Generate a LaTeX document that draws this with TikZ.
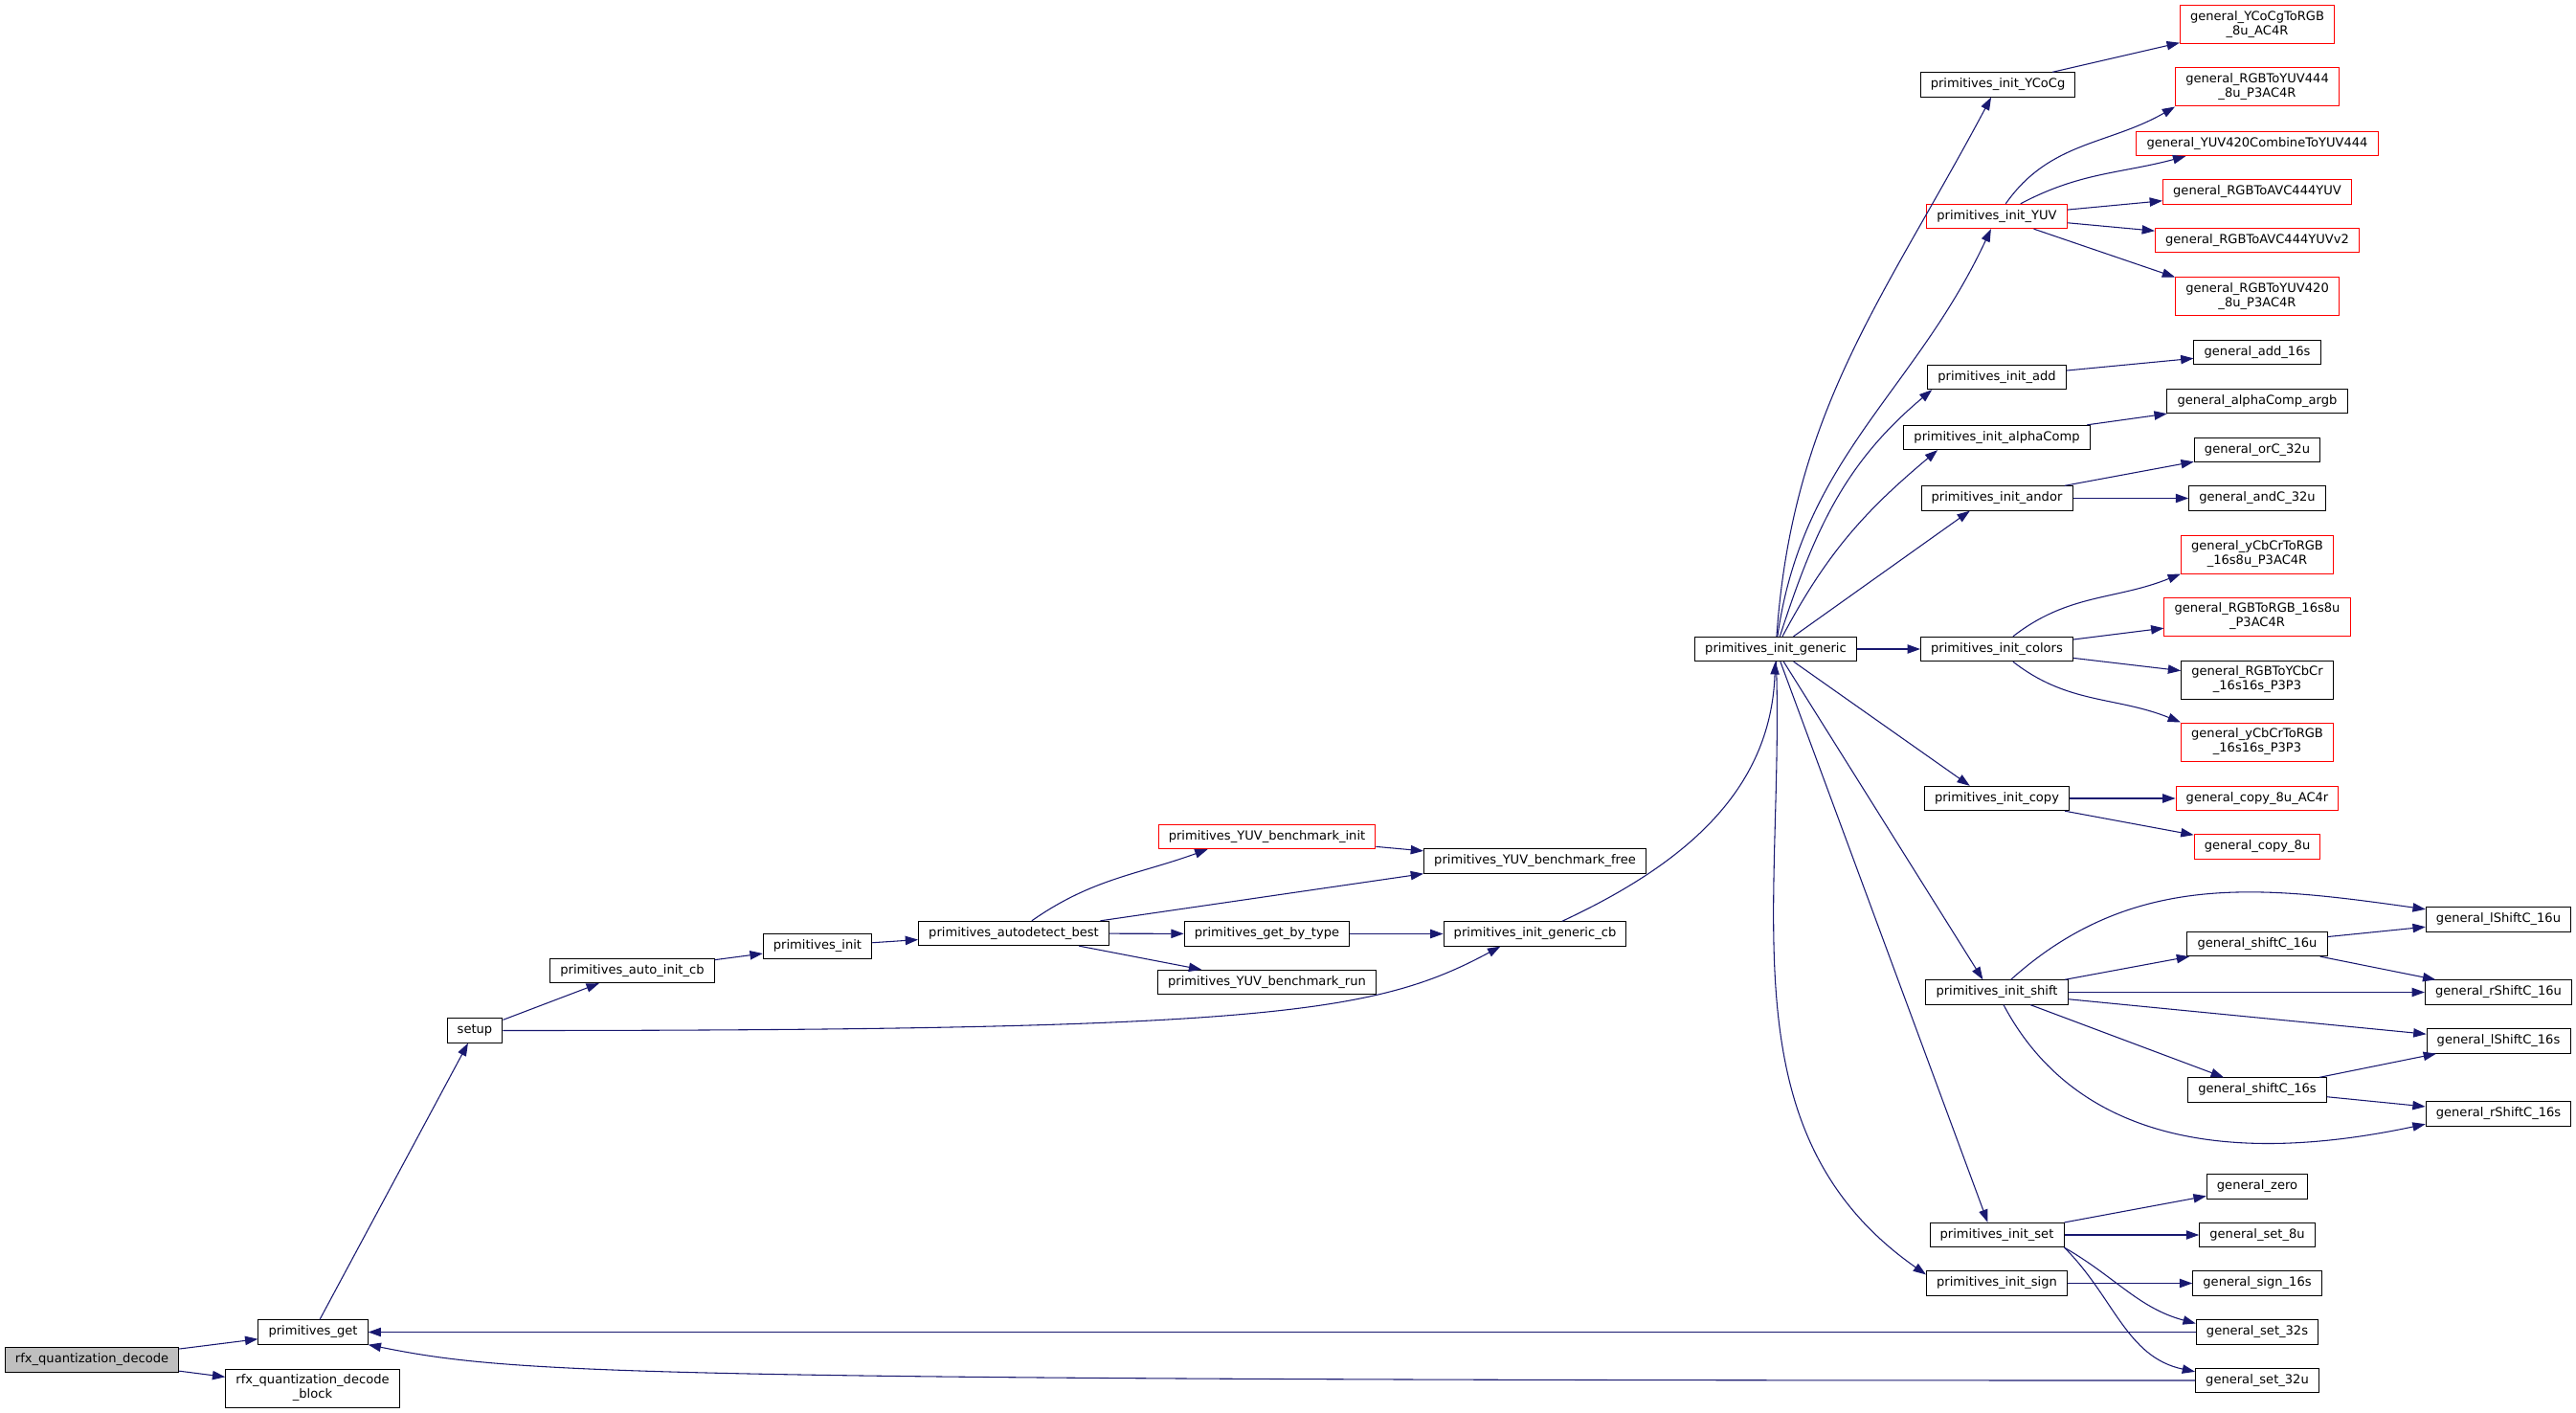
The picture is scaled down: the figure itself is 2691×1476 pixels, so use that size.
\documentclass[tikz,border=0pt]{standalone}
\usepackage{fontspec}
\setmainfont{DejaVu Sans}
\usetikzlibrary{arrows.meta}
\definecolor{edgeblue}{HTML}{191970}
\definecolor{rootgrey}{HTML}{BFBFBF}
\tikzset{
  fn/.style={draw=black, line width=0.75pt, fill=white, inner xsep=8pt, inner ysep=0pt,
    minimum height=19pt, align=center, font=\fontsize{9.8pt}{11.25pt}\selectfont},
  fntwo/.style={fn, minimum height=30pt},
  trunc/.style={draw=red},
  root/.style={fill=rootgrey},
  edge/.style={draw=edgeblue, line width=0.8pt, -{Triangle[length=10pt,width=7pt]}}
}

\begin{document}
\begin{tikzpicture}[x=0.75pt,y=-0.75pt]
		%%%%% START %%%%%
		\useasboundingbox (0,0) rectangle (2691,1476);
		
		\node[fn, root] (rfxdecode) at (96, 1420.5) {rfx\_quantization\_decode};
		\node[fn] (primget) at (327, 1391.5) {primitives\_get};
		\node[fntwo] (decodeblock) at (326.5, 1450) {rfx\_quantization\_decode\\\_block};
		
		\node[fn] (setup) at (496, 1076.5) {setup};
		\node[fn] (autoinitcb) at (660.5, 1014) {primitives\_auto\_init\_cb};
		\node[fn] (priminit) at (854, 988.5) {primitives\_init};
		\node[fn] (autodetect) at (1059, 975) {primitives\_autodetect\_best};
		
		\node[fn, trunc] (benchinit) at (1323.5, 874) {primitives\_YUV\_benchmark\_init};
		\node[fn] (benchfree) at (1603.5, 899.5) {primitives\_YUV\_benchmark\_free};
		\node[fn] (getbytype) at (1323.5, 975.5) {primitives\_get\_by\_type};
		\node[fn] (benchrun) at (1323.5, 1026) {primitives\_YUV\_benchmark\_run};
		\node[fn] (gencb) at (1603.5, 975.5) {primitives\_init\_generic\_cb};
		\node[fn] (initgeneric) at (1855, 678) {primitives\_init\_generic};
		
		\node[fn] (initycocg) at (2087, 88.5) {primitives\_init\_YCoCg};
		\node[fn, trunc] (inityuv) at (2086, 226) {primitives\_init\_YUV};
		\node[fn] (initadd) at (2086, 394) {primitives\_init\_add};
		\node[fn] (initalpha) at (2086, 457) {primitives\_init\_alphaComp};
		\node[fn] (initandor) at (2086, 520.5) {primitives\_init\_andor};
		\node[fn] (initcolors) at (2086, 678) {primitives\_init\_colors};
		\node[fn] (initcopy) at (2086, 834) {primitives\_init\_copy};
		\node[fn] (initshift) at (2086, 1036.5) {primitives\_init\_shift};
		\node[fn] (initset) at (2086, 1290) {primitives\_init\_set};
		\node[fn] (initsign) at (2086, 1340.5) {primitives\_init\_sign};
		
		\node[fntwo, trunc] (ycocgrgb) at (2358, 26) {general\_YCoCgToRGB\\\_8u\_AC4R};
		\node[fntwo, trunc] (yuv444) at (2358, 91) {general\_RGBToYUV444\\\_8u\_P3AC4R};
		\node[fn, trunc] (yuvcomb) at (2358, 150) {general\_YUV420CombineToYUV444};
		\node[fn, trunc] (avcyuv) at (2358, 200.5) {general\_RGBToAVC444YUV};
		\node[fn, trunc] (avcyuvtwo) at (2358, 251) {general\_RGBToAVC444YUVv2};
		\node[fntwo, trunc] (yuv420) at (2358, 310) {general\_RGBToYUV420\\\_8u\_P3AC4R};
		\node[fn] (addsixteen) at (2358, 368) {general\_add\_16s};
		\node[fn] (alphaargb) at (2358, 419) {general\_alphaComp\_argb};
		\node[fn] (orcu) at (2358, 470) {general\_orC\_32u};
		\node[fn] (andcu) at (2358, 520.5) {general\_andC\_32u};
		\node[fntwo, trunc] (ycbcrrgbu) at (2358, 579) {general\_yCbCrToRGB\\\_16s8u\_P3AC4R};
		\node[fntwo, trunc] (rgbrgbu) at (2358, 644) {general\_RGBToRGB\_16s8u\\\_P3AC4R};
		\node[fntwo] (rgbycbcr) at (2358, 710) {general\_RGBToYCbCr\\\_16s16s\_P3P3};
		\node[fntwo, trunc] (ycbcrrgbs) at (2358, 775) {general\_yCbCrToRGB\\\_16s16s\_P3P3};
		\node[fn, trunc] (copyac) at (2358, 834) {general\_copy\_8u\_AC4r};
		\node[fn, trunc] (copyu) at (2358, 884.5) {general\_copy\_8u};
		
		\node[fn] (lshiftu) at (2610, 960.5) {general\_lShiftC\_16u};
		\node[fn] (shiftu) at (2358, 986) {general\_shiftC\_16u};
		\node[fn] (rshiftu) at (2610, 1036.5) {general\_rShiftC\_16u};
		\node[fn] (lshifts) at (2610, 1087.5) {general\_lShiftC\_16s};
		\node[fn] (shifts) at (2358, 1138.5) {general\_shiftC\_16s};
		\node[fn] (rshifts) at (2610, 1163.5) {general\_rShiftC\_16s};
		
		\node[fn] (zero) at (2358, 1239.5) {general\_zero};
		\node[fn] (seteight) at (2358, 1290) {general\_set\_8u};
		\node[fn] (signsixteen) at (2358, 1340.5) {general\_sign\_16s};
		\node[fn] (setss) at (2358, 1391.5) {general\_set\_32s};
		\node[fn] (setsu) at (2358, 1442) {general\_set\_32u};
		
		% calls from the left part
		\draw[edge] (rfxdecode) -- (primget);
		\draw[edge] (rfxdecode) -- (decodeblock);
		\draw[edge] (primget) -- (setup);
		\draw[edge] (setup) -- (autoinitcb);
		\draw[edge] (setup.east) .. controls +(800,0) and +(-130,70) .. (gencb.-160);
		\draw[edge] (autoinitcb) -- (priminit);
		\draw[edge] (priminit) -- (autodetect);
		\draw[edge] (autodetect) to[out=35,in=-160] (benchinit.-168);
		\draw[edge] (autodetect) -- (benchfree.south west);
		\draw[edge] (autodetect) -- (getbytype);
		\draw[edge] (autodetect) -- (benchrun);
		\draw[edge] (benchinit) -- (benchfree);
		\draw[edge] (getbytype) -- (gencb);
		\draw[edge] (gencb) to[out=25,in=-92] (initgeneric);
		
		% primitives_init_generic
		\draw[edge] (initgeneric) to[out=86,in=-118] (initycocg);
		\draw[edge] (initgeneric) to[out=82,in=-115] (inityuv);
		\draw[edge] (initgeneric) to[out=72,in=-140] (initadd.-169);
		\draw[edge] (initgeneric) to[out=62,in=-140] (initalpha.-168);
		\draw[edge] (initgeneric) -- (initandor.-155);
		\draw[edge] (initgeneric) -- (initcolors);
		\draw[edge] (initgeneric) -- (initcopy.155);
		\draw[edge] (initgeneric) -- (initshift.138);
		\draw[edge] (initgeneric) -- (initset.126);
		\draw[edge] (initgeneric) to[out=-88,in=145] (initsign.173);
		
		\draw[edge] (initycocg) -- (ycocgrgb);
		\draw[edge] (inityuv) to[out=55,in=-150] (yuv444.south west);
		\draw[edge] (inityuv) to[out=28,in=-165] (yuvcomb.-170);
		\draw[edge] (inityuv) -- (avcyuv);
		\draw[edge] (inityuv) -- (avcyuvtwo);
		\draw[edge] (inityuv) -- (yuv420.north west);
		\draw[edge] (initadd) -- (addsixteen);
		\draw[edge] (initalpha) -- (alphaargb);
		\draw[edge] (initandor) -- (orcu);
		\draw[edge] (initandor) -- (andcu);
		\draw[edge] (initcolors) to[out=38,in=-158] (ycbcrrgbu.south west);
		\draw[edge] (initcolors) -- (rgbrgbu);
		\draw[edge] (initcolors) -- (rgbycbcr);
		\draw[edge] (initcolors) to[out=-38,in=158] (ycbcrrgbs.north west);
		\draw[edge] (initcopy) -- (copyac);
		\draw[edge] (initcopy) -- (copyu);
		
		% shifts
		\draw[edge] (initshift) to[out=42,in=172] (lshiftu.172);
		\draw[edge] (initshift) -- (shiftu);
		\draw[edge] (initshift) -- (rshiftu);
		\draw[edge] (initshift) -- (lshifts);
		\draw[edge] (initshift) -- (shifts);
		\draw[edge] (initshift) to[out=-62,in=-168] (rshifts.-172);
		\draw[edge] (shiftu) -- (lshiftu);
		\draw[edge] (shiftu) -- (rshiftu);
		\draw[edge] (shifts) -- (lshifts);
		\draw[edge] (shifts) -- (rshifts);
		
		% set and sign
		\draw[edge] (initset) -- (zero);
		\draw[edge] (initset) -- (seteight);
		\draw[edge] (initset.south east) to[out=-30,in=165] (setss.172);
		\draw[edge] (initset.south east) to[out=-45,in=168] (setsu.172);
		\draw[edge] (initsign) -- (signsixteen);
		\draw[edge] (setss) -- (primget);
		\draw[edge] (setsu.west) .. controls +(-1650,0) and +(150,30) .. (primget.south east);
		
		%%%%% END %%%%%
\end{tikzpicture}
\end{document}
